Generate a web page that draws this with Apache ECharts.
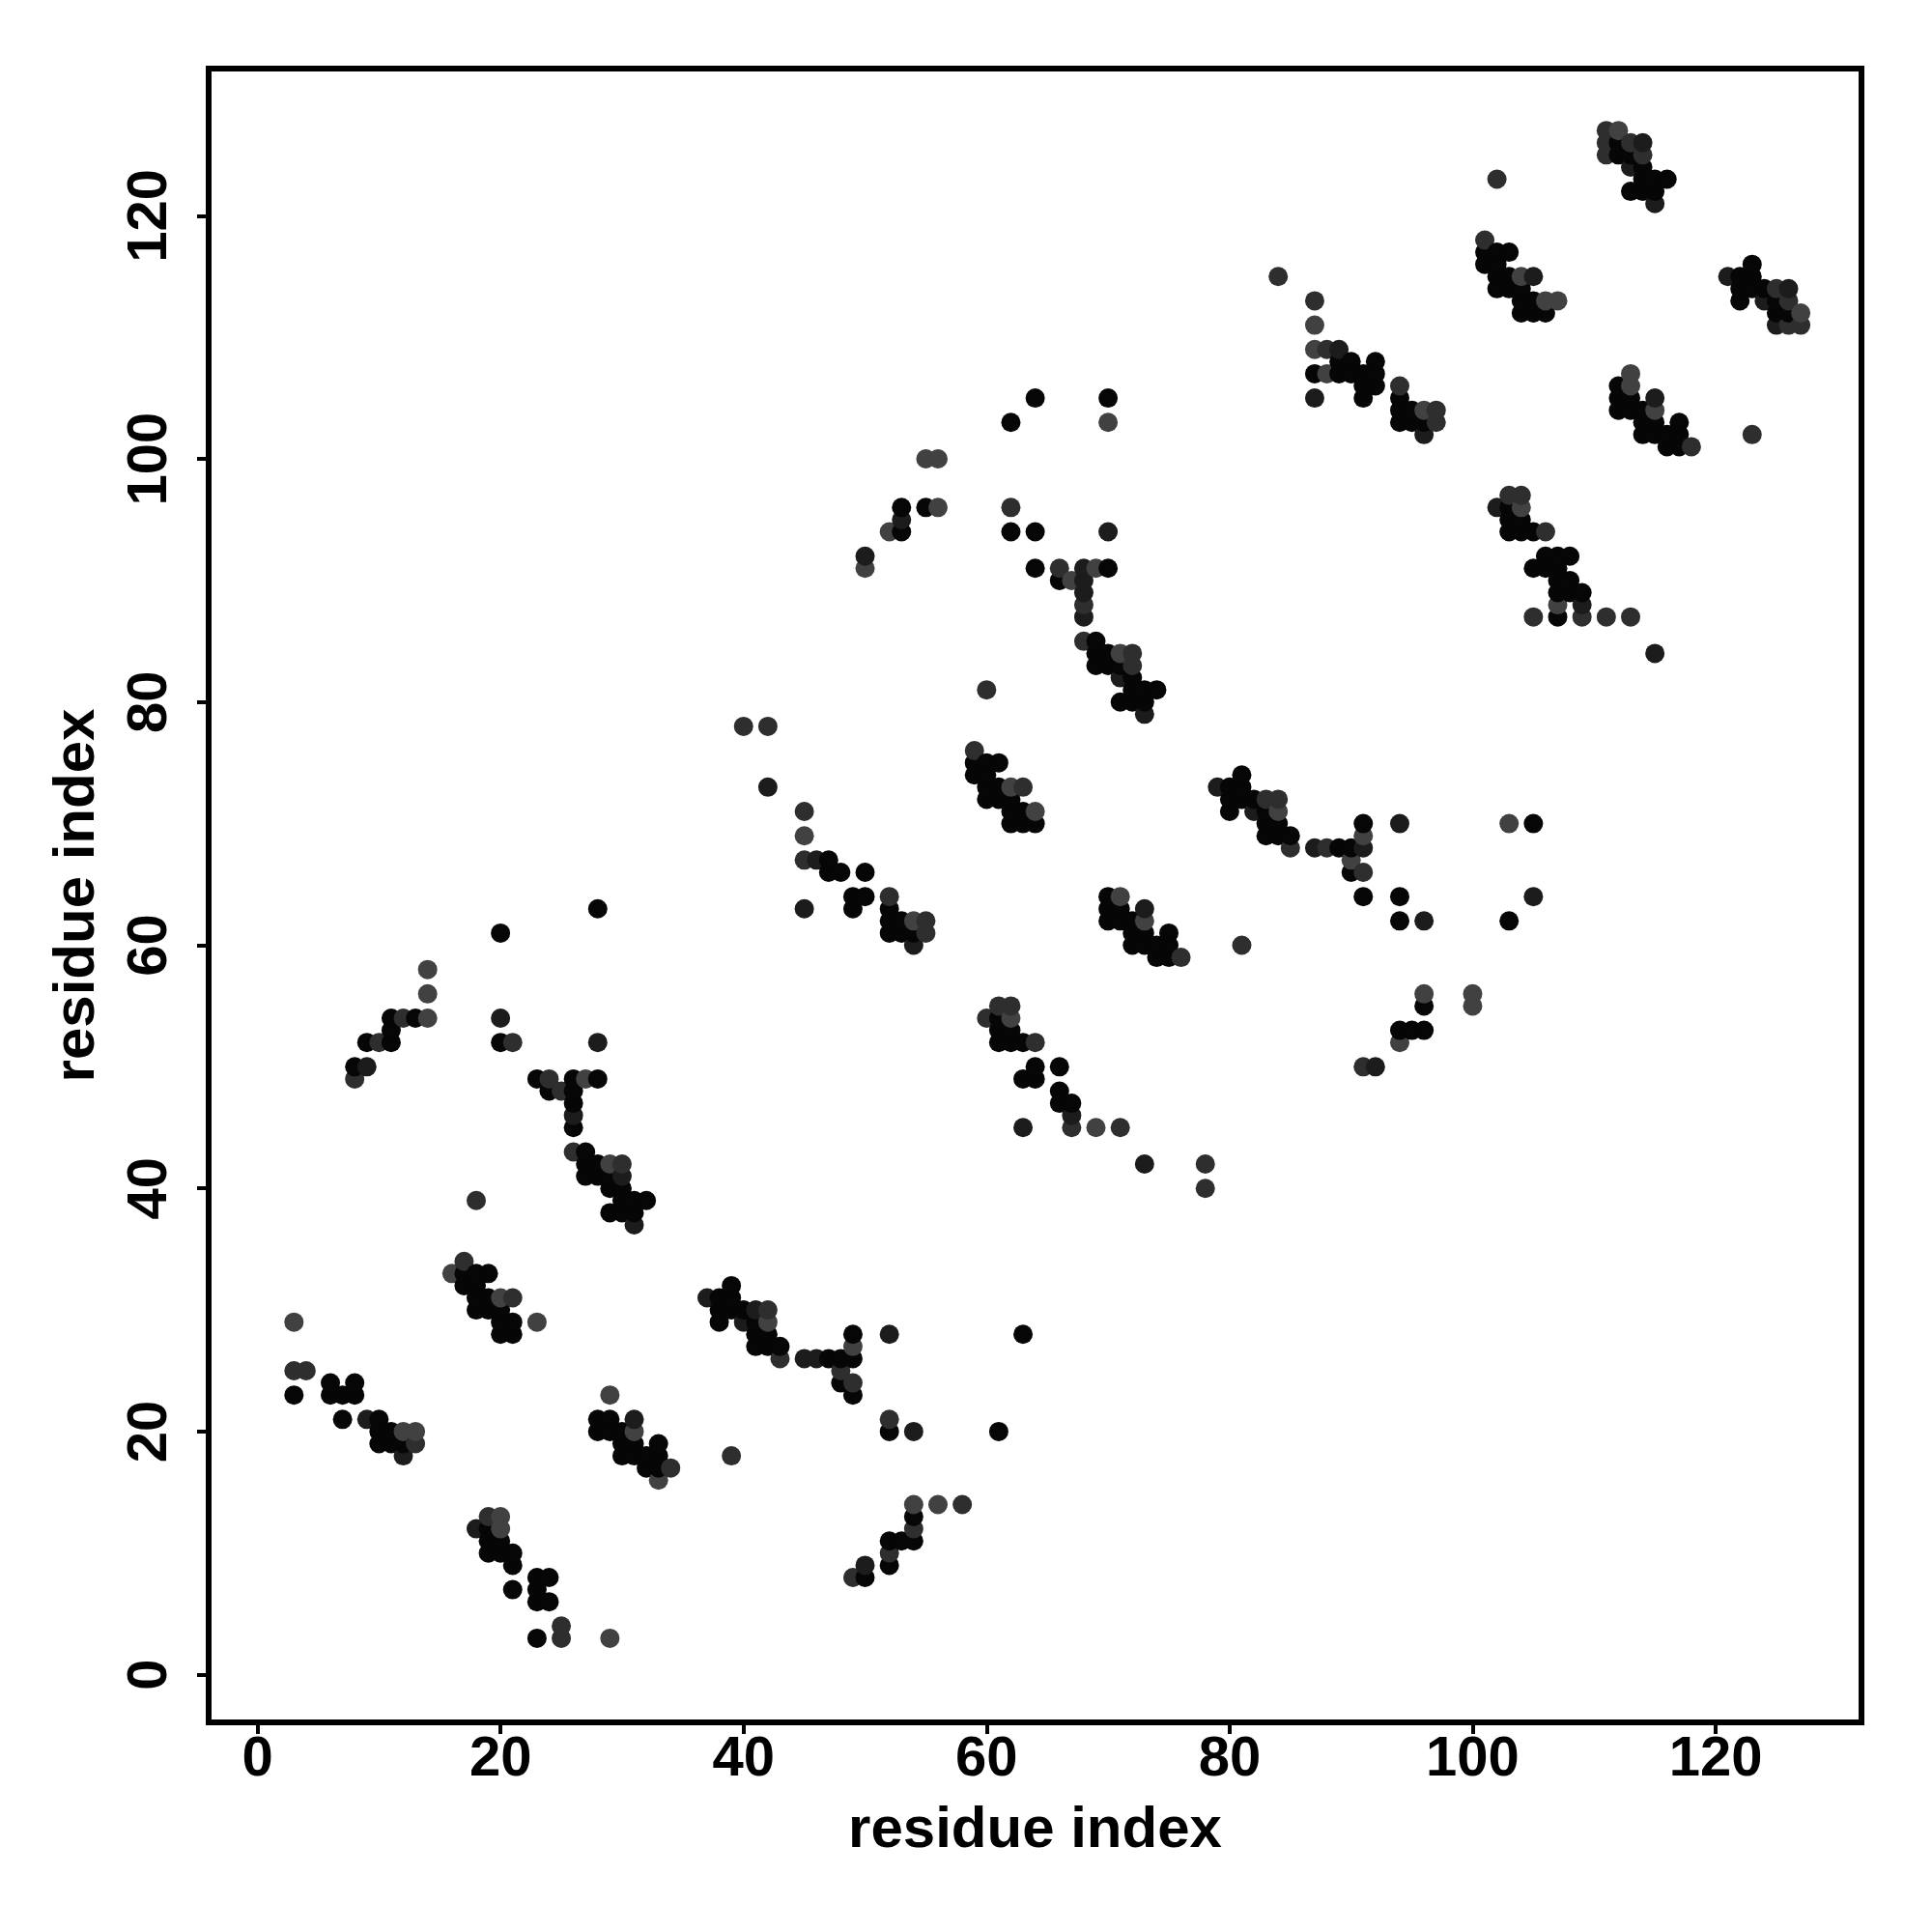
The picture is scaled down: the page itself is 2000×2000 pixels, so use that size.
<!DOCTYPE html>
<html><head><meta charset="utf-8">
<style>html,body{margin:0;padding:0;background:#fff}#c{width:2000px;height:2000px}</style>
<script src="https://cdn.jsdelivr.net/npm/echarts@6/dist/echarts.min.js"></script>
</head><body><div id="c"></div>
<script>
const tickValues=[0,20,40,60,80,100,120];
const axisName="residue index";
const blackPts=[[3,23],[6,24],[8,24],[6,23],[7,23],[8,23],[7,21],[10,21],[10,20],[11,20],[10,19],[11,19],[12,19],
[17,33],[18,33],[19,33],[17,32],[18,32],[18,31],[19,31],[18,30],[19,30],[20,30],[20,29],[21,29],[20,28],[21,28],
[19,12],[19,11],[20,11],[19,10],[20,10],[21,10],[21,9],[23,8],[24,8],[21,7],[23,7],[23,6],[24,6],[23,3],
[28,21],[29,21],[28,20],[29,20],[30,20],[30,19],[31,19],[33,19],[30,18],[31,18],[32,18],[33,18],[32,17],[33,17],
[38,31],[39,31],[39,32],[38,30],[39,30],[40,30],[38,29],[41,29],[41,28],[42,28],[41,27],[42,27],[43,27],
[47,26],[48,26],[49,26],[49,28],[63,28],[48,24],[49,23],[52,20],[61,20],[54,13],[52,11],[53,11],[54,11],[50,8],[52,9],
[28,63],[20,61],[11,54],[13,54],[11,53],[9,52],[11,52],[8,50],[20,52],[23,49],[26,49],[28,49],[24,48],[26,48],[26,47],[26,45],[27,43],
[27,42],[28,42],[27,41],[28,41],[29,41],[29,40],[30,40],[30,39],[31,39],[32,39],[29,38],[30,38],[31,38],
[47,67],[47,66],[48,66],[50,66],[49,64],[50,64],[49,63],[52,63],[52,62],[53,62],[52,61],[53,61],[54,61],
[59,75],[60,75],[61,75],[59,74],[60,74],[60,73],[61,73],[60,72],[61,72],[62,72],[62,71],[63,71],[62,70],[63,70],[64,70],
[70,64],[70,63],[71,63],[70,62],[71,62],[72,62],[72,61],[73,61],[75,61],[72,60],[73,60],[74,60],[75,60],[74,59],[75,59],
[61,54],[61,53],[62,53],[61,52],[62,52],[63,52],[64,50],[66,50],[63,49],[64,49],[66,48],[66,47],[67,47],
[81,74],[80,73],[81,73],[80,72],[81,72],[82,72],[80,71],[83,71],[83,70],[84,70],[91,70],[105,70],[83,69],[84,69],[85,69],[89,68],[90,68],[90,66],[91,64],[94,64],[94,62],[103,62],[94,53],[95,53],[96,53],[96,55],
[64,105],[70,105],[62,103],[53,96],[55,96],[53,94],[62,94],[64,94],[64,91],[70,91],[66,90],[69,85],[69,84],[70,84],[69,83],[70,83],[71,83],[72,82],[72,81],[73,81],[74,81],[71,80],[72,80],[73,80],
[89,108],[90,108],[92,108],[87,107],[89,107],[90,107],[91,107],[92,107],[91,106],[92,106],[91,105],[94,105],[94,104],[95,104],[94,103],[95,103],[96,103],
[112,126],[112,125],[113,125],[114,124],[114,123],[115,123],[116,123],[113,122],[114,122],[115,122],
[101,117],[102,117],[103,117],[101,116],[102,116],[102,115],[103,115],[102,114],[103,114],[104,114],[104,113],[105,113],[104,112],[105,112],[106,112],
[123,116],[122,115],[123,115],[122,114],[123,114],[124,114],[122,113],[125,113],[125,112],[126,112],
[112,106],[112,105],[113,105],[112,104],[113,104],[114,104],[114,103],[115,103],[117,103],[114,102],[115,102],[116,102],[117,102],[116,101],[117,101],
[103,96],[103,95],[104,95],[103,94],[104,94],[105,94],[106,92],[107,92],[108,92],[105,91],[106,91],[107,91],[107,90],[108,90],[107,89],[108,89],[109,89],[107,87]];
const darkPts=[[12,18],[9,21],[18,12],[31,21],[37,31],[40,29],[41,30],[45,26],[46,26],[52,28],[54,20],[50,9],
[20,54],[28,52],[9,50],[26,46],[30,41],[31,37],[42,73],[46,67],[45,63],[54,60],[73,63],[67,46],[63,45],[73,42],
[79,73],[82,71],[94,70],[87,68],[91,68],[105,64],[96,62],[92,50],[53,95],[70,94],[50,92],[68,91],[68,90],[68,89],[68,87],[71,82],[73,79],
[89,109],[87,105],[96,102],[114,126],[113,124],[115,121],[105,115],[121,115],[126,114],[124,113],[125,111],[115,105],[102,96],[109,88],[115,84]];
const midPts=[[3,25],[4,25],[13,19],[21,31],[17,34],[18,39],[19,13],[25,4],[25,3],[34,17],[42,30],[43,26],[48,25],[49,24],[52,21],[39,18],[58,14],[54,12],[52,10],[49,8],
[8,49],[10,52],[12,54],[21,52],[24,49],[25,48],[26,43],[30,42],[40,78],[42,78],[45,71],[45,67],[52,64],[55,62],[55,61],[59,76],[63,73],[76,59],
[62,55],[61,55],[60,54],[64,52],[67,45],[71,45],[78,42],[78,40],[81,60],[83,72],[84,72],[85,68],[88,68],[91,66],[91,50],
[62,96],[66,91],[68,88],[68,85],[72,84],[72,83],[60,81],[84,115],[87,113],[88,109],[94,106],[97,104],[97,103],
[111,127],[111,126],[113,126],[111,125],[114,125],[102,123],[101,118],[125,114],[126,113],[126,111],[127,111],[123,102],[118,101],[103,97],[104,97],[106,94],[105,87],[109,87],[111,87],[113,87]];
const grayPts=[[3,29],[12,20],[13,20],[16,33],[20,31],[23,29],[20,13],[20,12],[29,3],[29,23],[31,20],[33,16],[42,29],[49,27],[54,14],[56,14],
[14,58],[14,56],[14,54],[27,49],[29,42],[45,69],[54,62],[62,73],[64,71],[71,64],[73,62],[62,54],[69,45],[84,71],[103,70],[91,69],[90,67],[96,56],[100,56],[100,55],[94,52],
[70,103],[55,100],[56,100],[56,96],[52,94],[50,91],[69,91],[67,90],[71,84],[87,111],[87,109],[88,107],[96,104],[112,127],[104,115],[106,113],[107,113],[127,112],[113,107],[113,106],[115,104],[104,96],[107,88]];
const shades=["#060606","#1c1c1c","#2e2e2e","#414141"];

const merged=[];
[blackPts,darkPts,midPts,grayPts].forEach((list,lvl)=>list.forEach(p=>merged.push([p[0],p[1],lvl])));
merged.sort((a,b)=>a[0]-b[0]||a[1]-b[1]);

const font="'Liberation Sans', Arial, sans-serif";
const chart=echarts.init(document.getElementById('c'),null,{renderer:'canvas'});
function axis(isY){
  return {
    type:'value',
    min:isY?-3.92:-4.02, max:isY?132.1:132.0,
    name:axisName, nameLocation:'middle',
    nameGap:isY?106:82,
    nameTextStyle:{fontFamily:font,fontWeight:'bold',fontSize:60,color:'#000'},
    splitLine:{show:false},
    axisLine:{show:false,onZero:false},
    axisTick:{show:true,length:12,customValues:tickValues,lineStyle:{color:'#000',width:4}},
    axisLabel:{show:true,customValues:tickValues,fontFamily:font,fontWeight:'bold',fontSize:58,color:'#000',
      rotate:isY?90:0,margin:isY?31:10,hideOverlap:false,showMinLabel:true,showMaxLabel:true}
  };
}
chart.setOption({
  animation:false,
  backgroundColor:'#fff',
  grid:{left:216,top:71,width:1711,height:1712,show:true,backgroundColor:'transparent',borderColor:'#000',borderWidth:6,containLabel:false},
  xAxis:axis(false),
  yAxis:axis(true),
  series:[{type:'scatter',data:merged,encode:{x:0,y:1},symbol:'circle',symbolSize:20,progressive:0,
    itemStyle:{opacity:1,color:p=>shades[p.value[2]]}}]
});
</script></body></html>
